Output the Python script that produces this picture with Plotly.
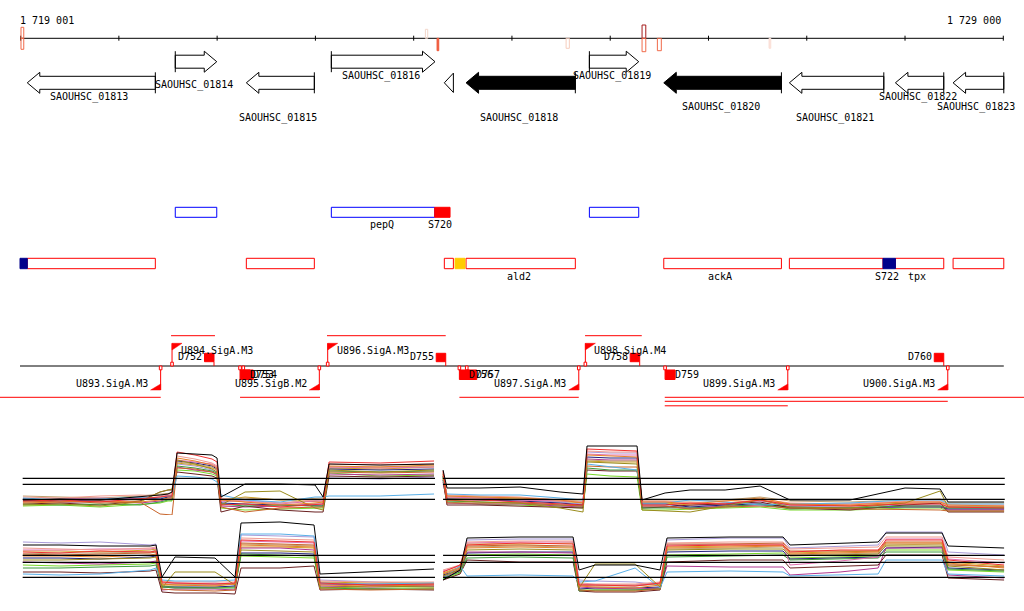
import plotly.graph_objects as go

# ======================= DATA =======================
RULER_START = 1719001
RULER_END = 1729000
RULER_TICKS = [1719001, 1720000, 1721000, 1722000, 1723000, 1724000,
               1725000, 1726000, 1727000, 1728000, 1729000]
RULER_LABELS = ["1 719 001", "1 729 000"]

GENE_NAMES = ["SAOUHSC_01813", "SAOUHSC_01814", "SAOUHSC_01815", "SAOUHSC_01816",
              "SAOUHSC_01817", "SAOUHSC_01818", "SAOUHSC_01819", "SAOUHSC_01820",
              "SAOUHSC_01821", "SAOUHSC_01822", "SAOUHSC_01823"]
GENE_START = [1719068, 1720574, 1721297, 1722162, 1723312, 1723533,
              1724788, 1725545, 1726823, 1727902, 1728489]
GENE_END = [1720371, 1720996, 1721989, 1723217, 1723404, 1724645,
            1725290, 1726742, 1727784, 1728394, 1729005]
GENE_STRAND = ["-", "+", "-", "+", "-", "-", "+", "-", "-", "-", "-"]
GENE_SELECTED = [False, False, False, False, False, True, False, True, False, False, False]
GENE_LABELLED = [True, True, True, True, False, True, True, True, True, True, True]

# signal marks on the ruler (signed score: + above, - below)
MARK_START = [1719004, 1719004, 1723119, 1723238, 1724551, 1725324, 1725324, 1725480, 1726616]
MARK_END = [1719032, 1719032, 1723143, 1723255, 1724584, 1725362, 1725362, 1725520, 1726634]
MARK_SCORE = [11, -11, 9, -12.4, -10, 13.3, -13.4, -12.4, -10]
MARK_COLOR = ["#f06a4a", "#f06a4a", "#f2d6ca", "#ef5a3c", "#f6cdbd",
              "#a51c1c", "#f06a4a", "#f06a4a", "#fbe1d8"]
MARK_FILLED = [False, False, False, True, False, False, False, False, True]

# operon row
OPERON_START = [1720574, 1722162, 1724788]
OPERON_END = [1720996, 1723214, 1725290]
OPERON_SITE_START = [1723214]
OPERON_SITE_END = [1723370]
OPERON_LABELS = ["pepQ", "S720"]
OPERON_LABEL_POS = [1722675, 1723271]

# annotation row
ANNOT_START = [1719068, 1721297, 1723312, 1723533, 1725545, 1726823, 1727902, 1728489]
ANNOT_END = [1720371, 1721989, 1723404, 1724645, 1726742, 1727776, 1728394, 1729005]
ANNOT_SITE_START = [1718994, 1723421, 1727776]
ANNOT_SITE_END = [1719068, 1723522, 1727902]
ANNOT_SITE_COLOR = ["#00008b", "#ffcc00", "#00008b"]
ANNOT_LABELS = ["ald2", "ackA", "S722", "tpx"]
ANNOT_LABEL_POS = [1724072, 1726121, 1727820, 1728123]

# transcription units
TU_UP_START = [1720531, 1722118, 1724744]
TU_UP_END = [1720978, 1723326, 1725321]
TU_DOWN_START = [1718700, 1721233, 1723465, 1725555, 1725555, 1725555]
TU_DOWN_END = [1720426, 1722047, 1724680, 1729300, 1728435, 1726807]
TU_DOWN_LEVEL = [0, 0, 0, 0, 1, 2]

BACKBONE = [1718994, 1729005]

PROM_NAMES = ["U893.SigA.M3", "U894.SigA.M3", "U895.SigB.M2", "U896.SigA.M3",
              "U897.SigA.M3", "U898.SigA.M4", "U899.SigA.M3", "U900.SigA.M3"]
PROM_POS = [1720425, 1720541, 1722040, 1722125, 1724680, 1724747, 1726807, 1728435]
PROM_STRAND = ["-", "+", "-", "+", "-", "+", "-", "-"]

TERM_NAMES = ["D752", "D753", "D754", "D755", "D756", "D757", "D758", "D759", "D760"]
TERM_POS = [1720968, 1721233, 1721266, 1723326, 1723465, 1723540, 1725300, 1725558, 1728394]
TERM_STRAND = ["+", "-", "-", "+", "-", "-", "+", "-", "+"]

# ---------------- expression tiling panels ----------------
TOP_X_LEFT = [1719024, 1719401, 1719808, 1720215, 1720419, 1720500, 1720541, 1720592,
              1720775, 1720948, 1720999, 1721039, 1721284, 1721640, 1721996, 1722078,
              1722139, 1722658, 1723207]
TOP_X_RIGHT = [1723299, 1723339, 1723675, 1724082, 1724490, 1724723, 1724764, 1724998,
               1725273, 1725324, 1725558, 1725812, 1726169, 1726525, 1726830, 1727441,
               1728000, 1728357, 1728438, 1729008]
TOP_THRESHOLDS = [4.17, 3.57, 2.07]

TOP_BLACK = [2.0, 2.1, 2.0, 2.3, 2.5, 2.6, 2.8, 6.7, 6.6, 6.5, 6.2, 2.3, 3.6, 3.6, 3.5, 2.3, 5.6, 5.5, 5.6,
             5.0, 3.2, 3.2, 3.3, 2.8, 2.6, 7.4, 7.4, 7.4, 2.0, 2.7, 3.0, 3.0, 3.4, 2.0, 2.0, 3.2, 3.1, 1.8, 1.8]
TOP_RED = [1.9, 2.0, 1.8, 2.1, 2.3, 2.4, 2.4, 6.8, 6.5, 6.1, 5.8, 1.5, 1.6, 1.3, 1.5, 1.6, 5.8, 5.7, 5.9,
           4.9, 2.0, 2.0, 1.8, 1.6, 1.5, 7.1, 7.0, 6.9, 1.5, 1.5, 1.7, 1.6, 2.0, 1.5, 1.4, 1.6, 1.6, 1.3, 1.2]
TOP_ORANGE = [1.7, 1.8, 1.9, 1.8, 2.0, 2.2, 2.2, 6.2, 5.9, 5.5, 5.2, 2.0, 1.8, 1.5, 1.7, 1.8, 5.4, 5.3, 5.5,
              4.6, 2.4, 2.3, 2.2, 2.0, 1.7, 6.5, 6.4, 6.3, 1.8, 1.8, 1.6, 1.9, 2.2, 1.6, 1.5, 1.8, 1.8, 1.5, 1.4]
TOP_OLIVE = [1.5, 1.6, 1.4, 1.8, 2.8, 3.0, 3.1, 6.0, 5.6, 5.1, 4.8, 1.5, 2.8, 2.9, 1.2, 1.0, 5.0, 4.8, 5.0,
             4.4, 2.0, 1.8, 1.7, 1.2, 0.8, 5.8, 5.7, 5.6, 1.0, 0.9, 0.8, 1.4, 2.0, 1.3, 1.2, 1.7, 2.9, 1.3, 1.3]
TOP_LIGHTBLUE = [2.2, 2.0, 2.1, 2.3, 2.2, 2.4, 2.4, 4.4, 4.3, 4.1, 3.8, 2.5, 2.0, 1.8, 2.3, 2.3, 2.4, 2.4, 2.6,
                 4.0, 2.6, 2.5, 2.5, 2.2, 2.0, 5.6, 5.3, 5.0, 1.7, 1.7, 2.0, 1.8, 1.5, 1.6, 1.7, 2.0, 2.0, 1.6, 1.6]
TOP_LIME = [1.4, 1.5, 1.3, 1.6, 1.7, 1.9, 1.9, 5.0, 4.9, 4.6, 4.4, 1.2, 1.0, 1.1, 1.2, 1.2, 4.7, 4.4, 4.5,
            4.2, 1.8, 1.6, 1.5, 1.3, 1.2, 4.6, 4.4, 4.3, 1.0, 1.0, 1.1, 1.2, 1.3, 1.0, 1.0, 1.2, 1.2, 0.9, 0.9]
TOP_LAVENDER = [1.8, 1.7, 1.9, 2.0, 2.1, 2.3, 2.3, 5.6, 5.4, 5.0, 4.8, 1.8, 2.0, 1.7, 2.0, 2.0, 4.2, 4.1, 4.3,
                3.6, 2.2, 2.1, 2.0, 1.8, 1.6, 6.8, 6.7, 6.7, 1.4, 1.4, 1.4, 1.5, 1.7, 1.4, 1.3, 1.5, 1.5, 1.1, 1.1]
TOP_MAGENTA = [2.0, 1.8, 1.9, 1.7, 1.9, 2.1, 2.1, 5.3, 5.0, 4.8, 4.5, 1.4, 1.3, 1.4, 1.6, 1.6, 4.6, 4.5, 4.6,
               3.8, 1.7, 1.6, 1.6, 1.4, 1.3, 6.1, 6.0, 6.0, 1.3, 1.3, 1.2, 1.4, 1.5, 1.2, 1.1, 1.4, 1.4, 1.0, 1.0]
TOP_NAVY = [2.1, 1.9, 2.0, 2.2, 2.1, 2.3, 2.3, 5.9, 5.7, 5.4, 5.1, 1.7, 1.6, 1.5, 1.4, 1.4, 5.1, 5.0, 5.1,
            4.4, 2.1, 2.0, 1.9, 1.7, 1.5, 6.3, 6.2, 6.2, 1.6, 1.6, 1.3, 1.5, 1.6, 1.3, 1.2, 1.3, 1.3, 1.1, 1.1]
TOP_DARKBROWN = [1.6, 1.7, 1.5, 1.9, 2.8, 3.0, 3.0, 4.8, 4.6, 4.4, 4.2, 0.8, 1.4, 1.0, 0.8, 0.8, 4.4, 4.3, 4.4,
                 4.0, 1.5, 1.5, 1.4, 1.3, 1.2, 5.0, 4.9, 4.9, 1.2, 1.3, 1.5, 1.6, 1.8, 1.2, 1.0, 1.5, 1.7, 0.8, 0.8]
TOP_SALMON = [2.3, 2.2, 2.4, 2.5, 2.4, 2.6, 2.6, 6.4, 6.1, 5.7, 5.4, 2.2, 1.8, 1.7, 2.0, 2.0, 5.6, 5.5, 5.6,
              4.8, 2.5, 2.4, 2.3, 2.0, 1.8, 6.9, 6.8, 6.8, 1.9, 1.9, 1.7, 1.9, 2.1, 1.7, 1.6, 1.9, 1.9, 1.5, 1.5]
TOP_SIENNA = [1.8, 1.9, 1.7, 1.8, 0.6, 0.5, 0.5, 5.2, 5.1, 4.8, 4.6, 1.3, 0.8, 1.2, 1.3, 1.3, 4.8, 4.7, 4.8,
              4.2, 1.7, 1.7, 1.7, 1.5, 1.4, 5.4, 5.3, 5.3, 1.4, 1.4, 1.1, 1.3, 1.4, 1.2, 1.1, 1.0, 1.0, 0.9, 0.9]
TOP_GOLD = [1.9, 2.0, 2.1, 2.0, 2.2, 2.4, 2.4, 5.7, 5.5, 5.2, 5.0, 2.0, 2.3, 2.0, 1.8, 1.8, 5.2, 5.1, 5.3,
            4.6, 2.2, 2.2, 2.1, 1.9, 1.7, 5.9, 5.8, 5.8, 1.7, 1.7, 1.5, 1.7, 2.0, 1.6, 1.4, 1.7, 1.7, 1.3, 1.3]
TOP_PINK = [2.0, 2.1, 2.2, 2.1, 2.3, 2.5, 2.5, 6.0, 5.8, 5.6, 5.3, 1.9, 1.9, 1.6, 1.9, 1.9, 5.3, 5.2, 5.3,
            4.5, 2.3, 2.2, 2.0, 1.9, 1.8, 6.6, 6.5, 6.5, 1.8, 1.8, 1.6, 1.7, 1.9, 1.5, 1.6, 1.8, 1.8, 1.4, 1.4]
TOP_GREEN = [1.6, 1.5, 1.6, 1.5, 1.8, 2.0, 2.0, 5.4, 5.2, 4.9, 4.7, 1.6, 1.4, 1.5, 1.4, 1.4, 4.9, 4.8, 4.9,
             4.3, 1.9, 1.8, 1.7, 1.5, 1.4, 5.2, 5.0, 5.0, 1.2, 1.2, 1.2, 1.3, 1.6, 1.1, 1.2, 1.4, 1.4, 1.2, 1.2]
TOP_TAN = [2.4, 2.3, 2.2, 2.4, 2.6, 2.7, 2.7, 5.8, 5.6, 5.3, 5.0, 2.1, 2.2, 2.0, 2.2, 2.2, 5.3, 5.3, 5.4,
           4.7, 2.4, 2.3, 2.2, 2.0, 1.9, 6.0, 5.9, 5.9, 1.9, 1.9, 1.9, 2.0, 2.3, 1.9, 1.8, 2.0, 2.1, 1.7, 1.7]

BOT_X_LEFT = [1719024, 1719401, 1719808, 1720317, 1720378, 1720439, 1720571, 1720978,
              1721182, 1721243, 1721640, 1721986, 1722047, 1722556, 1723207]
BOT_X_RIGHT = [1723299, 1723472, 1723543, 1724082, 1724622, 1724683, 1724846, 1725253,
               1725507, 1725578, 1726219, 1726759, 1726830, 1727339, 1727726, 1727807,
               1728377, 1728438, 1729008]
BOT_THRESHOLDS = [4.47, 3.77, 2.27]

BOT_BLACK = [5.5, 5.5, 5.4, 5.4, 5.5, 2.3, 4.3, 4.2, 2.3, 7.7, 7.8, 7.5, 2.6, 2.8, 3.1,
             2.0, 3.0, 6.2, 6.3, 6.3, 3.0, 3.5, 3.5, 3.0, 6.2, 6.3, 6.3, 5.5, 5.7, 5.8, 6.7, 6.7, 5.4, 5.2]
BOT_LAVENDER = [5.8, 5.7, 5.8, 5.5, 5.6, 1.5, 1.6, 1.7, 1.5, 6.5, 6.4, 6.3, 2.0, 1.8, 1.6,
                2.5, 3.2, 6.0, 6.1, 6.1, 2.0, 1.9, 1.8, 1.5, 6.0, 6.2, 6.2, 5.2, 5.4, 5.5, 6.8, 6.8, 4.8, 4.5]
BOT_RED = [4.8, 4.7, 4.9, 4.8, 4.9, 1.8, 1.7, 1.6, 1.7, 6.0, 5.9, 5.8, 1.7, 1.5, 1.6,
           2.8, 3.5, 5.5, 5.7, 5.6, 1.5, 1.5, 1.4, 1.7, 5.4, 5.5, 5.5, 4.8, 5.0, 5.0, 6.0, 6.0, 4.0, 3.5]
BOT_ORANGE = [4.4, 4.4, 4.3, 4.5, 4.6, 1.6, 1.5, 1.4, 1.6, 5.5, 5.4, 5.3, 1.5, 1.4, 1.5,
              2.6, 3.2, 5.2, 5.3, 5.2, 1.4, 1.3, 1.2, 1.5, 5.2, 5.3, 5.4, 4.6, 4.7, 4.8, 5.7, 5.7, 3.7, 3.2]
BOT_OLIVE = [4.0, 4.0, 4.1, 4.2, 4.3, 1.2, 2.8, 2.8, 1.5, 5.0, 4.9, 4.8, 1.2, 1.4, 1.3,
             2.4, 3.0, 5.0, 5.1, 5.0, 1.2, 3.6, 3.6, 1.3, 5.0, 5.1, 5.1, 4.4, 4.5, 4.6, 5.4, 5.4, 3.4, 3.0]
BOT_LIGHTBLUE = [2.6, 2.5, 2.6, 3.0, 3.2, 2.0, 1.9, 1.9, 2.0, 6.6, 6.6, 6.4, 1.7, 1.6, 1.7,
                 2.2, 3.4, 2.4, 2.5, 2.4, 1.8, 1.9, 3.2, 1.2, 2.8, 2.9, 2.8, 2.4, 2.5, 2.6, 4.0, 4.0, 2.6, 2.4]
BOT_LIME = [3.5, 3.4, 3.5, 3.6, 3.7, 1.4, 1.3, 1.2, 1.3, 4.4, 4.3, 4.2, 1.3, 1.2, 1.2,
            2.1, 2.7, 4.5, 4.6, 4.5, 1.0, 1.0, 1.0, 1.2, 4.5, 4.6, 4.7, 4.2, 4.3, 4.4, 5.0, 5.0, 3.0, 2.8]
BOT_MAGENTA = [3.8, 3.7, 3.6, 3.8, 3.9, 1.0, 1.1, 1.1, 1.0, 5.2, 5.2, 5.0, 1.4, 1.3, 1.4,
               2.3, 2.9, 4.8, 4.8, 4.7, 1.3, 1.2, 1.1, 1.2, 3.4, 3.3, 3.3, 2.5, 2.8, 3.2, 5.2, 5.2, 2.5, 2.2]
BOT_NAVY = [4.2, 4.2, 4.1, 4.3, 4.4, 1.3, 1.3, 1.3, 1.4, 4.7, 4.7, 4.6, 1.6, 1.5, 1.4,
            2.5, 3.0, 4.7, 4.8, 4.8, 1.1, 1.2, 1.2, 1.3, 4.8, 4.9, 4.9, 4.1, 4.2, 4.3, 5.2, 5.3, 3.2, 3.0]
BOT_DARKBROWN = [2.8, 2.8, 2.7, 2.9, 3.0, 0.8, 0.7, 0.7, 0.6, 3.2, 3.2, 3.4, 1.0, 1.1, 1.0,
                 2.0, 2.6, 4.0, 3.8, 3.8, 0.9, 0.8, 0.8, 1.0, 3.8, 4.0, 4.0, 3.2, 3.4, 3.5, 4.5, 4.5, 2.2, 2.0]
BOT_SALMON = [5.2, 5.1, 5.0, 5.2, 5.3, 1.9, 1.8, 1.8, 1.8, 6.2, 6.1, 6.0, 1.9, 1.8, 1.8,
              3.0, 3.5, 5.8, 5.9, 5.9, 1.7, 1.6, 1.6, 1.8, 5.7, 5.8, 5.8, 5.1, 5.2, 5.3, 6.3, 6.3, 4.3, 4.0]
BOT_SIENNA = [4.6, 4.5, 4.6, 4.7, 4.8, 1.1, 1.0, 0.9, 1.0, 5.7, 5.6, 5.5, 1.1, 1.0, 1.1,
              2.4, 3.1, 5.4, 5.5, 5.4, 1.0, 0.9, 0.9, 1.1, 5.6, 5.6, 5.7, 4.9, 4.9, 4.9, 5.8, 5.8, 3.5, 3.3]
BOT_GOLD = [4.9, 4.9, 4.8, 5.0, 5.1, 1.5, 1.5, 1.5, 1.6, 5.3, 5.3, 5.2, 1.8, 1.7, 1.7,
            2.7, 3.3, 5.6, 5.6, 5.7, 1.6, 1.5, 1.5, 1.6, 5.3, 5.4, 5.5, 4.7, 4.8, 4.9, 5.5, 5.6, 3.8, 3.4]
BOT_PINK = [5.0, 5.0, 5.1, 5.1, 5.2, 1.7, 1.7, 1.6, 1.7, 5.9, 5.8, 5.7, 1.6, 1.6, 1.5,
            2.9, 3.4, 5.7, 5.8, 5.8, 1.6, 1.5, 1.5, 1.7, 5.5, 5.6, 5.6, 3.5, 3.9, 4.3, 6.1, 6.1, 4.1, 3.7]
BOT_GREEN = [3.2, 3.2, 3.3, 3.4, 3.5, 1.3, 1.2, 1.2, 1.2, 4.6, 4.5, 4.4, 1.2, 1.1, 1.1,
             2.2, 2.8, 4.2, 4.3, 4.2, 0.9, 1.0, 1.0, 1.1, 4.3, 4.4, 4.5, 4.0, 4.1, 4.2, 4.8, 4.8, 3.1, 2.9]
BOT_TAN = [4.6, 4.7, 4.7, 4.8, 5.0, 1.6, 1.6, 1.5, 1.6, 5.6, 5.5, 5.4, 1.7, 1.6, 1.6,
           2.6, 3.3, 5.3, 5.4, 5.3, 1.5, 1.4, 1.4, 1.6, 5.1, 5.2, 5.3, 4.5, 4.6, 4.7, 5.6, 5.6, 3.6, 3.3]

SERIES_COLORS = {
    "red": "#f03030", "orange": "#e8802a", "olive": "#9a8c1c", "lightblue": "#5ab0e8",
    "lime": "#78d828", "lavender": "#a89ad8", "magenta": "#b03890", "navy": "#20207a",
    "darkbrown": "#6a2020", "salmon": "#f09a90", "sienna": "#c8642a", "gold": "#d0a020",
    "pink": "#e070b0", "green": "#3c9a3c", "tan": "#c0a070", "black": "#000000",
}
TOP_SERIES = [("lavender", TOP_LAVENDER), ("lime", TOP_LIME), ("gold", TOP_GOLD),
              ("navy", TOP_NAVY), ("magenta", TOP_MAGENTA), ("darkbrown", TOP_DARKBROWN),
              ("green", TOP_GREEN), ("tan", TOP_TAN), ("pink", TOP_PINK),
              ("sienna", TOP_SIENNA), ("salmon", TOP_SALMON), ("lightblue", TOP_LIGHTBLUE),
              ("olive", TOP_OLIVE), ("orange", TOP_ORANGE), ("red", TOP_RED), ("black", TOP_BLACK)]
BOT_SERIES = [("lavender", BOT_LAVENDER), ("lime", BOT_LIME), ("gold", BOT_GOLD),
              ("navy", BOT_NAVY), ("magenta", BOT_MAGENTA), ("darkbrown", BOT_DARKBROWN),
              ("green", BOT_GREEN), ("tan", BOT_TAN), ("pink", BOT_PINK),
              ("sienna", BOT_SIENNA), ("salmon", BOT_SALMON), ("lightblue", BOT_LIGHTBLUE),
              ("olive", BOT_OLIVE), ("orange", BOT_ORANGE), ("red", BOT_RED), ("black", BOT_BLACK)]

# ======================= LAYOUT CONSTANTS =======================
W, H = 1024, 611
RULER_PX0, RULER_PX1 = 20.7, 1003.3
BPPX = (RULER_END - RULER_START) / (RULER_PX1 - RULER_PX0)
X0 = RULER_START - RULER_PX0 * BPPX
X1 = X0 + W * BPPX

FONT = dict(family="DejaVu Sans Mono", size=10, color="black")
RULER_Y = 38.3
ROW_PLUS, ROW_MINUS = 61.7, 82.8
HEAD_H, BODY_H, HEAD_PX = 10.5, 6.5, 12.5
GENE_LABEL_Y = [97.3, 85, 117.7, 76, None, 117.7, 76, 106.7, 117.7, 97.3, 106.7]
OPERON_Y = (207.3, 217.3)
ANNOT_Y = (258.3, 268.7)
BACKBONE_Y = 366
TU_UP_Y = 335.7
TU_DOWN_Y = [397.3, 401.3, 405.8]
RED = "#ff0000"
PANEL_LEFT_END, PANEL_RIGHT_START = 1719021, 1729015
PANEL_GAP = (1723217, 1723299)

TOP_DOMAIN_PX = (440, 520)
BOT_DOMAIN_PX = (515, 600)

fig = go.Figure()
shapes = []
annots = []


def px(d):
    return d * BPPX


def add_line(xs, ys, color="black", width=1, yaxis="y"):
    fig.add_trace(go.Scatter(x=xs, y=ys, mode="lines", yaxis=yaxis,
                             line=dict(color=color, width=width),
                             hoverinfo="skip", showlegend=False))


def add_poly(xs, ys, fill, line="black", width=1):
    fig.add_trace(go.Scatter(x=xs, y=ys, mode="lines", fill="toself", fillcolor=fill,
                             line=dict(color=line, width=width),
                             hoverinfo="skip", showlegend=False))


def rect(x0, x1, y0, y1, line=None, fill=None):
    shapes.append(dict(type="rect", xref="x", yref="y", x0=x0, x1=x1, y0=y0, y1=y1,
                       line=dict(color=line if line else "rgba(0,0,0,0)", width=1 if line else 0),
                       fillcolor=fill if fill else "rgba(0,0,0,0)", layer="above"))


def text(x, y, s, anchor="center", xshift=0):
    annots.append(dict(x=x, y=y, xref="x", yref="y", text=s, showarrow=False,
                       xanchor=anchor, yanchor="middle", font=FONT, xshift=xshift,
                       borderpad=0))


# ---------------- ruler ----------------
add_line([RULER_START, RULER_END], [RULER_Y, RULER_Y])
tx, ty = [], []
for t in RULER_TICKS:
    tx += [t, t, None]
    ty += [RULER_Y - 2.6, RULER_Y + 2.4, None]
add_line(tx, ty)
text(RULER_START, 20.3, RULER_LABELS[0], "left", -2)
text(RULER_END, 20.3, RULER_LABELS[1], "right", -1)
for s, e, sc, c, f in zip(MARK_START, MARK_END, MARK_SCORE, MARK_COLOR, MARK_FILLED):
    y0, y1 = (RULER_Y - sc, RULER_Y) if sc > 0 else (RULER_Y, RULER_Y - sc)
    rect(s, e, y0, y1, line=c, fill=c if f else None)

# ---------------- genes ----------------
for name, s, e, st, sel, lab, ly in zip(GENE_NAMES, GENE_START, GENE_END, GENE_STRAND,
                                        GENE_SELECTED, GENE_LABELLED, GENE_LABEL_Y):
    yc = ROW_PLUS if st == "+" else ROW_MINUS
    base, tip, d = (s, e, 1) if st == "+" else (e, s, -1)
    hl = px(HEAD_PX)
    if (e - s) <= hl:
        xs = [base, base, tip, base]
        ys = [yc - HEAD_H * 0.92, yc + HEAD_H * 0.92, yc, yc - HEAD_H * 0.92]
        add_poly(xs, ys, "white")
    else:
        neck = tip - d * hl
        xs = [base, neck, neck, tip, neck, neck, base, base]
        ys = [yc - BODY_H, yc - BODY_H, yc - HEAD_H, yc, yc + HEAD_H, yc + BODY_H, yc + BODY_H, yc - BODY_H]
        add_poly(xs, ys, "black" if sel else "white")
        add_line([base, base], [yc - HEAD_H, yc + HEAD_H])
    if lab:
        text((s + e) / 2, ly, name, "center", -2)

# ---------------- operon row ----------------
for s, e in zip(OPERON_START, OPERON_END):
    rect(s, e, *OPERON_Y, line="#0000ff")
for s, e in zip(OPERON_SITE_START, OPERON_SITE_END):
    rect(s, e, *OPERON_Y, line=RED, fill=RED)
for lab, p in zip(OPERON_LABELS, OPERON_LABEL_POS):
    text(p, 224.6, lab)

# ---------------- annotation row ----------------
for s, e in zip(ANNOT_START, ANNOT_END):
    rect(s, e, *ANNOT_Y, line=RED)
for s, e, c in zip(ANNOT_SITE_START, ANNOT_SITE_END, ANNOT_SITE_COLOR):
    rect(s, e, *ANNOT_Y, line=c, fill=c)
for lab, p in zip(ANNOT_LABELS, ANNOT_LABEL_POS):
    text(p, 276, lab)

# ---------------- transcription units ----------------
ux, uy = [], []
for s, e in zip(TU_UP_START, TU_UP_END):
    ux += [s, e, None]
    uy += [TU_UP_Y, TU_UP_Y, None]
for s, e, lv in zip(TU_DOWN_START, TU_DOWN_END, TU_DOWN_LEVEL):
    ux += [s, e, None]
    uy += [TU_DOWN_Y[lv], TU_DOWN_Y[lv], None]
add_line(ux, uy, color=RED)
add_line(BACKBONE, [BACKBONE_Y, BACKBONE_Y])

# promoters
for n, p, st in zip(PROM_NAMES, PROM_POS, PROM_STRAND):
    if st == "+":
        add_line([p, p], [BACKBONE_Y - 4, 343.3], color=RED)
        add_poly([p, p + px(10), p, p], [343.3, 343.3, 350, 343.3], RED, line=RED, width=0.5)
        rect(p - px(1.3), p + px(1.3), BACKBONE_Y - 3.8, BACKBONE_Y, line=RED, fill="white")
        text(p + px(8), 350.7, n, "left")
    else:
        add_line([p, p], [BACKBONE_Y + 4, 390], color=RED)
        add_poly([p, p - px(10), p, p], [390, 390, 384, 390], RED, line=RED, width=0.5)
        rect(p - px(1.3), p + px(1.3), BACKBONE_Y, BACKBONE_Y + 3.8, line=RED, fill="white")
        text(p - px(11.4), 383.3, n, "right")

# terminators
for n, p, st in zip(TERM_NAMES, TERM_POS, TERM_STRAND):
    if st == "+":
        rect(p - px(9.5), p, 353.3, 361.7, line=RED, fill=RED)
        add_line([p, p], [361.7, BACKBONE_Y], color=RED)
        text(p - px(10.7), 356.7, n, "right")
    else:
        rect(p - px(1.3), p + px(1.3), BACKBONE_Y, BACKBONE_Y + 3.8, line=RED, fill="white")
        rect(p, p + px(10), 370, 379.5, line=RED, fill=RED)
        text(p + px(8.6), 374.3, n, "left")


# ---------------- expression panels ----------------
def panel(xl, xr, series, thresholds, yaxis):
    n = len(xl)
    xs = xl + [None] + xr
    for cname, vals in series:
        ys = vals[:n] + [None] + vals[n:]
        add_line(xs, ys, color=SERIES_COLORS[cname], width=1, yaxis=yaxis)
    for t in thresholds:
        add_line([PANEL_LEFT_END, PANEL_GAP[0], None, PANEL_GAP[1], PANEL_RIGHT_START],
                 [t, t, None, t, t], color="black", width=1.2, yaxis=yaxis)


panel(TOP_X_LEFT, TOP_X_RIGHT, TOP_SERIES, TOP_THRESHOLDS, "y2")
panel(BOT_X_LEFT, BOT_X_RIGHT, BOT_SERIES, BOT_THRESHOLDS, "y3")


def dom(pxr):
    return [1 - pxr[1] / H, 1 - pxr[0] / H]


fig.update_layout(
    width=W, height=H, margin=dict(l=0, r=0, t=0, b=0),
    paper_bgcolor="white", plot_bgcolor="white", showlegend=False,
    hovermode=False,
    xaxis=dict(range=[X0, X1], visible=False, showgrid=False, zeroline=False),
    yaxis=dict(range=[H, 0], visible=False, showgrid=False, zeroline=False, domain=[0, 1]),
    yaxis2=dict(range=[0, (TOP_DOMAIN_PX[1] - TOP_DOMAIN_PX[0]) / 10], domain=dom(TOP_DOMAIN_PX),
                visible=False, showgrid=False, zeroline=False, anchor="x"),
    yaxis3=dict(range=[0, (BOT_DOMAIN_PX[1] - BOT_DOMAIN_PX[0]) / 10], domain=dom(BOT_DOMAIN_PX),
                visible=False, showgrid=False, zeroline=False, anchor="x"),
    shapes=shapes, annotations=annots,
)

fig.write_html("out.html", config={"displayModeBar": False, "staticPlot": True},
               post_script="document.body.style.margin='0';document.body.style.overflow='hidden';")
